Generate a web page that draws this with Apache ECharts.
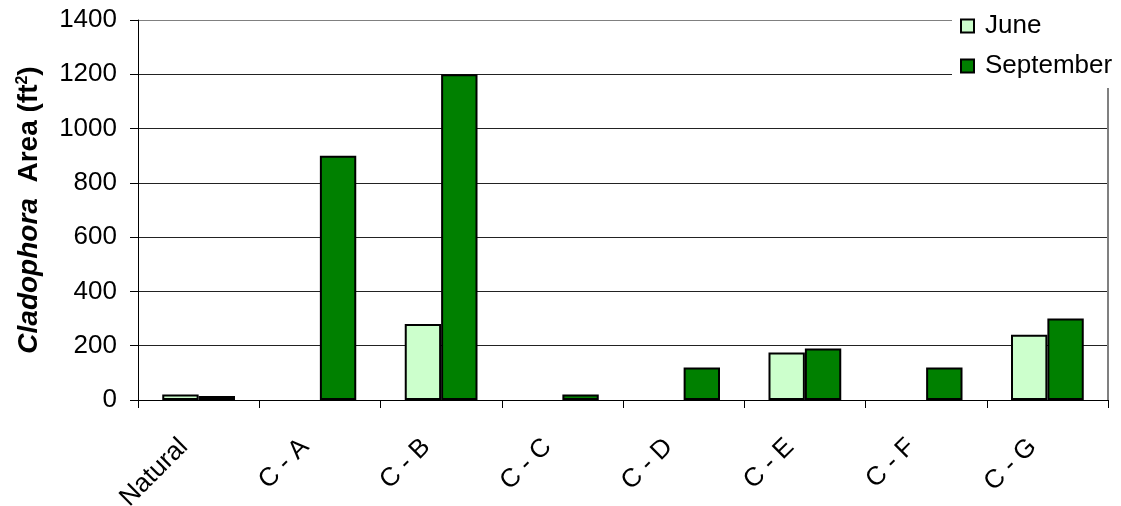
<!DOCTYPE html>
<html>
<head>
<meta charset="utf-8">
<script src="https://cdn.jsdelivr.net/npm/echarts@6/dist/echarts.min.js"></script>
<style>
    html, body { margin: 0; padding: 0; background: #fff; }
    #chart { width: 1121px; height: 506px; }
</style>
</head>
<body>
<div id="chart"></div>
<script>
// data
const sites = ['Natural', 'C - A', 'C - B', 'C - C', 'C - D', 'C - E', 'C - F', 'C - G']
const june = [20, 0, 280, 0, 0, 175, 0, 240]
const september = [15, 900, 1200, 20, 120, 190, 120, 300]
const yTicks = [0, 200, 400, 600, 800, 1000, 1200, 1400]

const font = 'Arial, "Liberation Sans", sans-serif'

// zero values are simply not drawn in the original
const noZero = arr => arr.map(v => (v === 0 ? null : v))

// top border of the plot is gray, inner gridlines dark
const gridColors = yTicks.map((t, i) => (i === yTicks.length - 1 ? '#808080' : '#222'))

const chart = echarts.init(document.getElementById('chart'))
chart.setOption({
    animation: false,
    textStyle: { fontFamily: font },
    grid: { left: 138, top: 20, right: 13, bottom: 106, containLabel: false, outerBoundsMode: 'none' },
    legend: {
        orient: 'vertical',
        left: 952,
        top: 0,
        padding: [13, 40, 9, 8],
        itemGap: 14,
        itemWidth: 13,
        itemHeight: 13,
        icon: 'rect',
        backgroundColor: '#fff',
        z: 10,
        textStyle: { fontSize: 26, color: '#000', lineHeight: 22, fontFamily: font, padding: [0, 0, 0, 6] },
        data: ['June', 'September']
    },
    xAxis: {
        type: 'category',
        data: sites,
        axisLine: { lineStyle: { color: '#000', width: 1 } },
        axisTick: { show: true, length: 8, alignWithLabel: false, lineStyle: { color: '#000' } },
        axisLabel: { rotate: 45, fontSize: 26, color: '#000', margin: 28, fontFamily: font, padding: [0, 21, 0, 0] }
    },
    yAxis: [
        {
            type: 'value',
            min: yTicks[0],
            max: yTicks[yTicks.length - 1],
            interval: 200,
            name: '{i|Cladophora}{b|  Area (ft}{s|2}{b|)}',
            nameLocation: 'middle',
            nameRotate: 90,
            nameGap: 95,
            nameTextStyle: {
                rich: {
                    i: { fontSize: 28, fontWeight: 'bold', fontStyle: 'italic', color: '#000', fontFamily: font },
                    b: { fontSize: 28, fontWeight: 'bold', color: '#000', fontFamily: font },
                    s: { fontSize: 16, fontWeight: 'bold', color: '#000', fontFamily: font, verticalAlign: 'top', padding: [0, 0, 11, 0] }
                }
            },
            axisLine: { show: true, lineStyle: { color: '#000', width: 1 } },
            axisTick: { show: true, length: 8, inside: false, lineStyle: { color: '#000' } },
            axisLabel: { fontSize: 26, color: '#000', margin: 21, fontFamily: font, formatter: v => String(v) },
            splitLine: { show: true, lineStyle: { color: gridColors, width: 1 } }
        },
        {
            type: 'value',
            min: 0,
            max: 1400,
            interval: 200,
            position: 'right',
            axisLine: { show: true, lineStyle: { color: '#808080', width: 2 } },
            axisTick: { show: false },
            axisLabel: { show: false },
            splitLine: { show: false }
        }
    ],
    series: [
        {
            name: 'June',
            type: 'bar',
            data: noZero(june),
            barGap: '0%',
            barCategoryGap: '40%',
            itemStyle: { color: '#ccffcc', borderColor: '#000', borderWidth: 2 }
        },
        {
            name: 'September',
            type: 'bar',
            data: noZero(september),
            barGap: '0%',
            barCategoryGap: '40%',
            itemStyle: { color: '#008000', borderColor: '#000', borderWidth: 2 }
        }
    ]
})
</script>
</body>
</html>
